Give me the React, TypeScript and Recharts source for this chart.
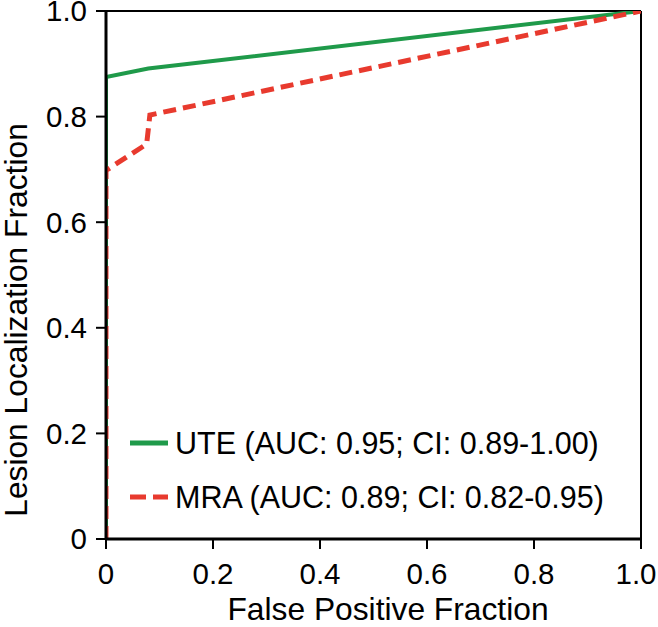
import React from "react";
import { LineChart, Line, XAxis, YAxis, ReferenceLine, Legend } from "recharts";

const xTicks = [0, 0.2, 0.4, 0.6, 0.8, 1.0];
const yTicks = [0, 0.2, 0.4, 0.6, 0.8, 1.0];

const uteX = [0, 0, 0.079, 1];
const uteY = [0, 0.875, 0.891, 1];
const mraX = [0, 0, 0.076, 0.082, 1];
const mraY = [0, 0.698, 0.748, 0.803, 1];

const seriesNames = [
  "UTE (AUC: 0.95; CI: 0.89-1.00)",
  "MRA (AUC: 0.89; CI: 0.82-0.95)",
];
const xTitle = "False Positive Fraction";
const yTitle = "Lesion Localization Fraction";

const GREEN = "#1f9a4a";
const RED = "#e83a2e";
const FONT = "'Liberation Sans', Arial, Helvetica, sans-serif";

const uteData = uteX.map((x, i) => ({ x, y: uteY[i] }));
const mraData = mraX.map((x, i) => ({ x, y: mraY[i] }));

const fmt = (v: number) => (v === 0 ? "0" : v.toFixed(1));

const XTick = (props: any) => {
  const { x, y, payload } = props;
  const cx = Math.min(x, 636);
  return (
    <text x={cx} y={y} dy="0.71em" textAnchor="middle" fill="#000" fontSize={29.5} fontFamily={FONT}>
      {fmt(payload.value)}
    </text>
  );
};

const YTitle = () => {
  const cx = 27;
  const cy = 320;
  return (
    <text
      x={cx}
      y={cy}
      transform={`rotate(-90 ${cx} ${cy})`}
      textAnchor="middle"
      fill="#000"
      fontSize={31.75}
      fontFamily={FONT}
    >
      {yTitle}
    </text>
  );
};

const XTitle = () => {
  return (
    <text x={388} y={620} textAnchor="middle" fill="#000" fontSize={31.75} fontFamily={FONT}>
      {xTitle}
    </text>
  );
};

const renderLegend = () => {
  const rows = [
    { name: seriesNames[0], color: GREEN, dash: undefined as string | undefined },
    { name: seriesNames[1], color: RED, dash: "16 7" },
  ];
  return (
    <div style={{ fontFamily: FONT, fontSize: 30.5, color: "#000" }}>
      {rows.map((r) => (
        <div key={r.name} style={{ display: "flex", alignItems: "center", height: 54 }}>
          <svg width={45} height={10} style={{ display: "block" }}>
            <line x1={0} y1={5} x2={38} y2={5} stroke={r.color} strokeWidth={5} strokeDasharray={r.dash} />
          </svg>
          <span style={{ whiteSpace: "nowrap", lineHeight: "54px" }}>{r.name}</span>
        </div>
      ))}
    </div>
  );
};

export default function App() {
  return (
    <div style={{ position: "absolute", left: 0, top: 0, background: "#fff" }}>
      <LineChart width={658} height={627} margin={{ top: 11, right: 17, bottom: 28, left: 0 }}>
        <XAxis
          type="number"
          dataKey="x"
          domain={[0, 1]}
          ticks={xTicks}
          tickFormatter={fmt}
          interval={0}
          height={60}
          tickSize={10}
          tickMargin={14}
          axisLine={{ stroke: "#000", strokeWidth: 3 }}
          tickLine={{ stroke: "#000", strokeWidth: 2 }}
          tick={<XTick />}
          allowDataOverflow
          label={<XTitle />}
        />
        <YAxis
          type="number"
          dataKey="y"
          domain={[0, 1]}
          ticks={yTicks}
          tickFormatter={fmt}
          interval={0}
          width={106}
          tickSize={10}
          tickMargin={9}
          axisLine={{ stroke: "#000", strokeWidth: 3 }}
          tickLine={{ stroke: "#000", strokeWidth: 2 }}
          tick={{ fill: "#000", fontSize: 29.5, fontFamily: FONT }}
          allowDataOverflow
          label={<YTitle />}
        />
        <ReferenceLine y={1} stroke="#000" strokeWidth={2} ifOverflow="visible" />
        <ReferenceLine x={1} stroke="#000" strokeWidth={2} ifOverflow="visible" />
        <Line
          data={uteData}
          dataKey="y"
          name={seriesNames[0]}
          type="linear"
          stroke={GREEN}
          strokeWidth={4}
          dot={false}
          activeDot={false}
          isAnimationActive={false}
        />
        <Line
          data={mraData}
          dataKey="y"
          name={seriesNames[1]}
          type="linear"
          stroke={RED}
          strokeWidth={5}
          strokeDasharray="13 7"
          dot={false}
          activeDot={false}
          isAnimationActive={false}
        />
        <Legend
          content={renderLegend}
          layout="horizontal"
          verticalAlign="middle"
          align="center"
          wrapperStyle={{ position: "absolute", left: 130, top: 416, width: "auto" }}
        />
      </LineChart>
    </div>
  );
}
